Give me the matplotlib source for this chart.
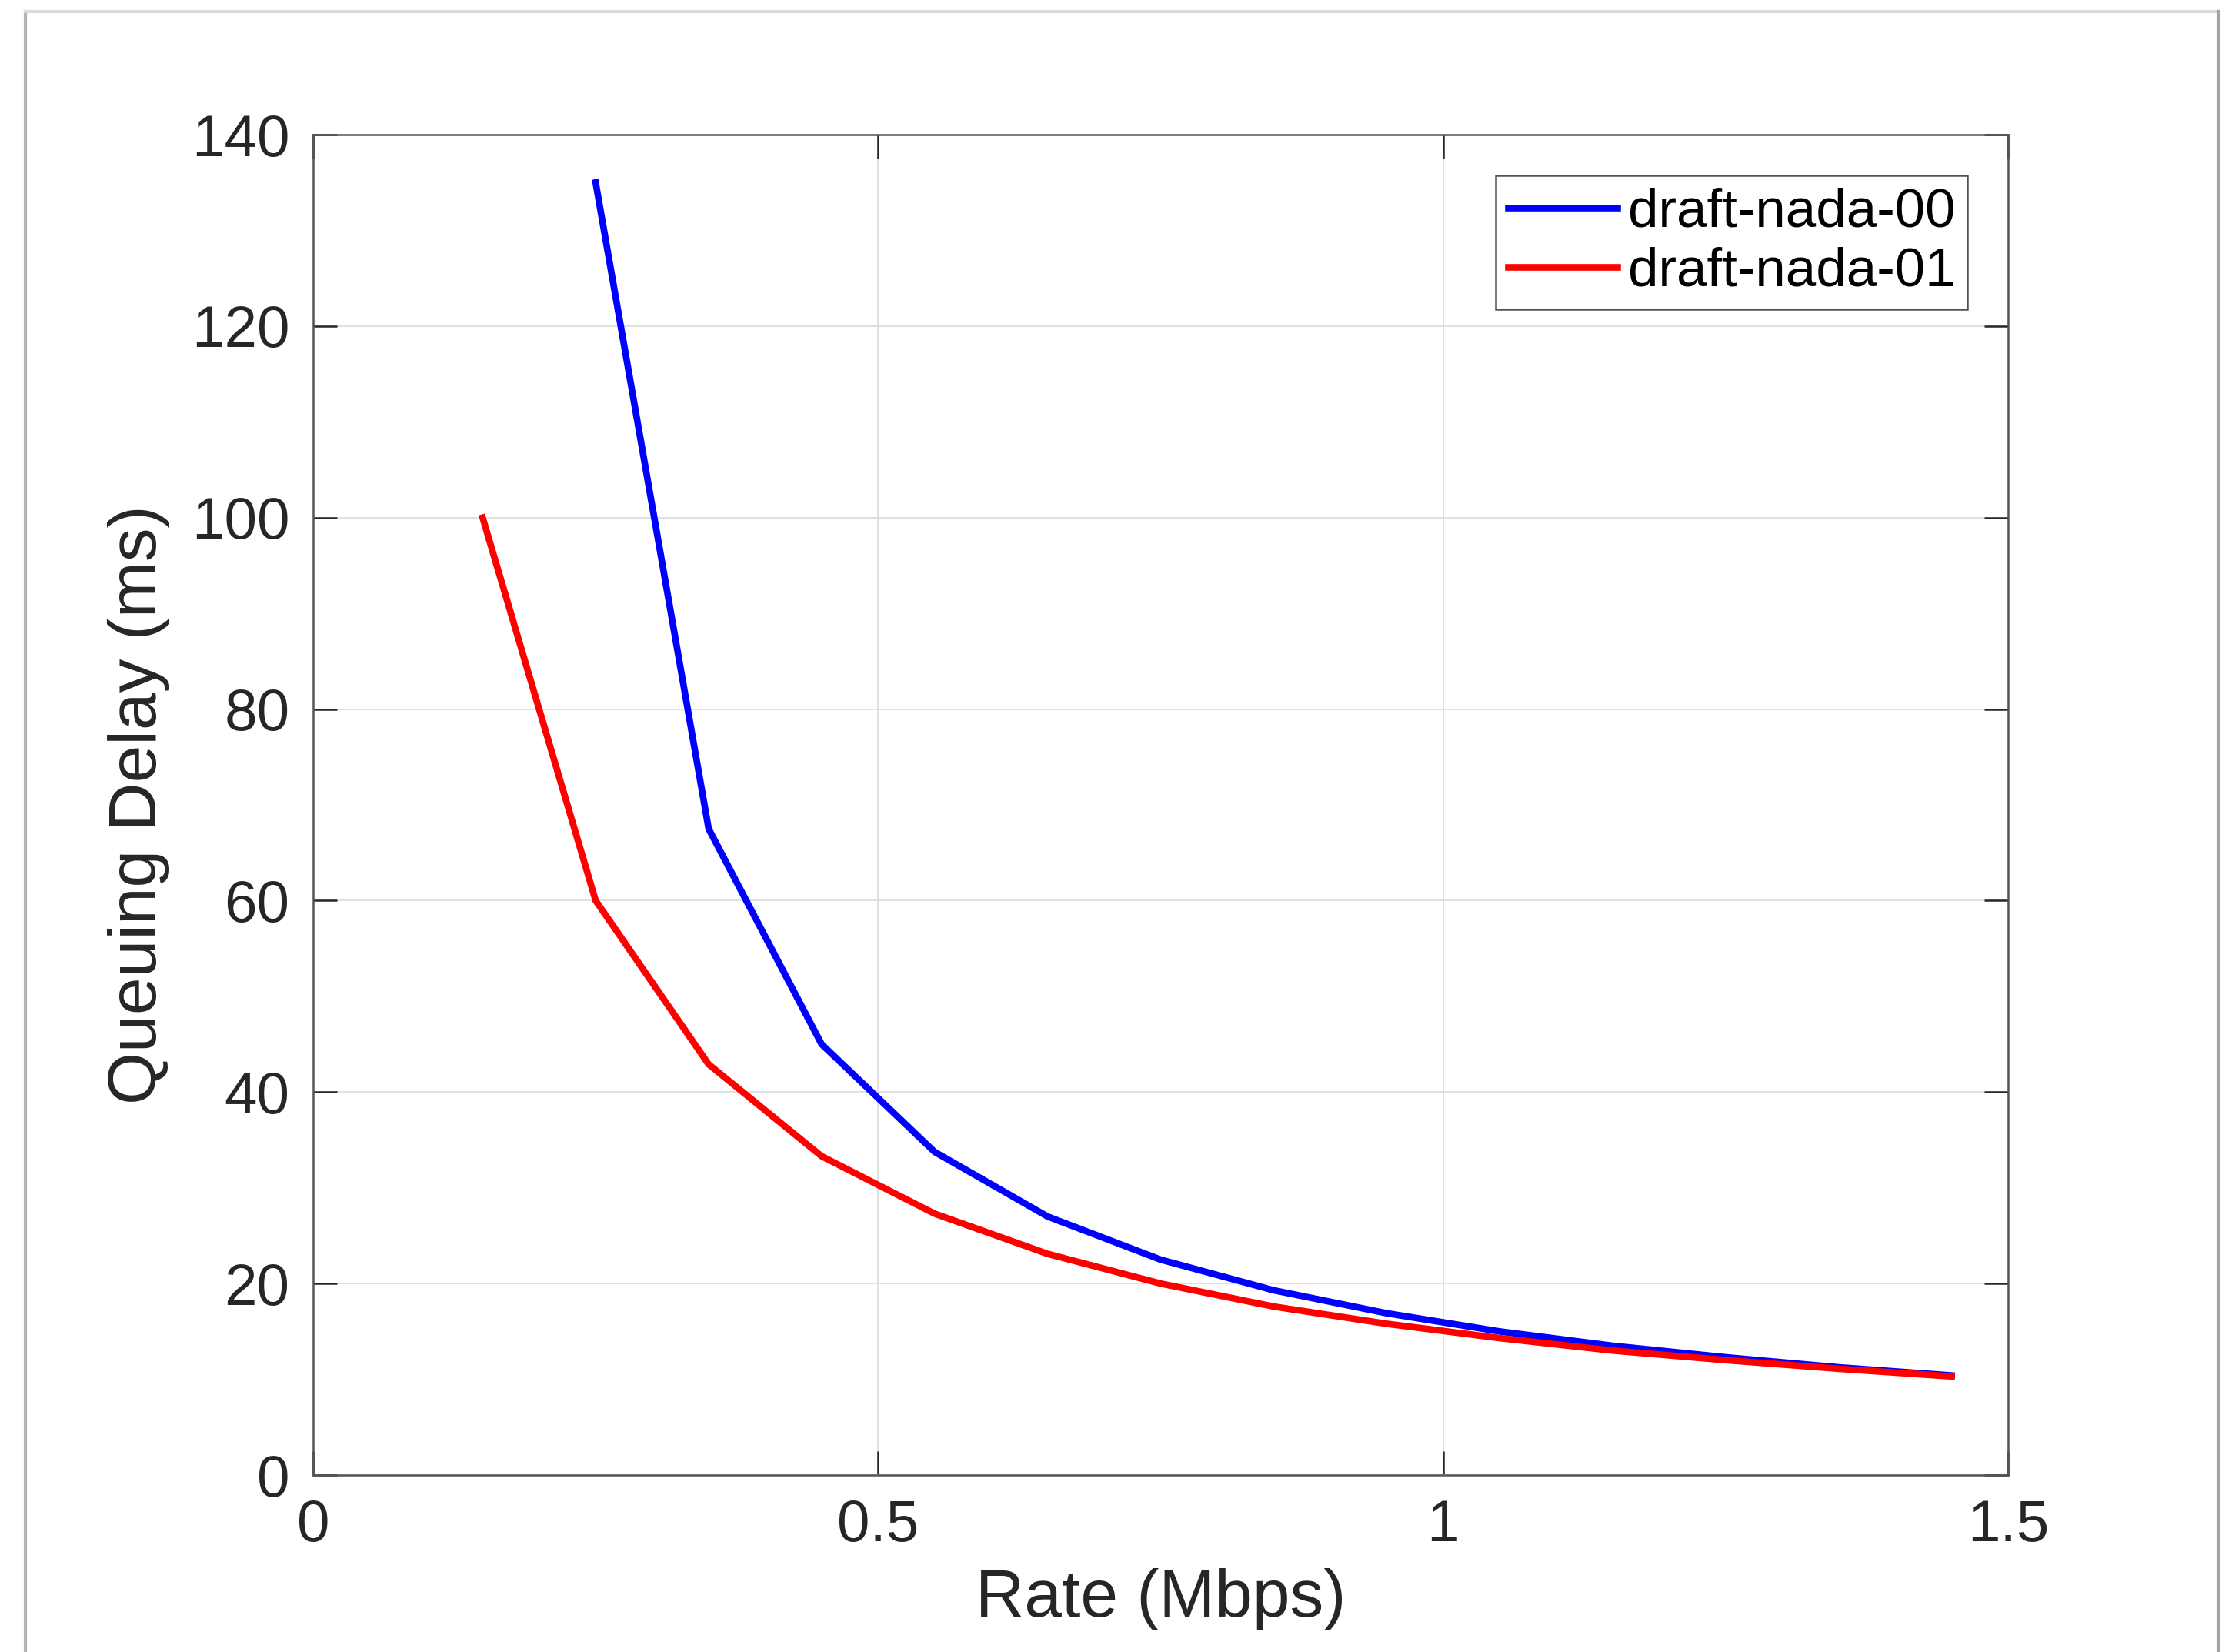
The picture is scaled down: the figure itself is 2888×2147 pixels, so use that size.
import matplotlib
matplotlib.use("Agg")
import matplotlib.pyplot as plt
from matplotlib.lines import Line2D

# data
rate_00 = [0.25, 0.35, 0.45, 0.55, 0.65, 0.75, 0.85, 0.95, 1.05, 1.15, 1.25, 1.35, 1.45]
delay_00 = [135, 67.5, 45, 33.75, 27, 22.5, 19.3, 16.9, 15, 13.5, 12.3, 11.25, 10.4]
rate_01 = [0.15, 0.25, 0.35, 0.45, 0.55, 0.65, 0.75, 0.85, 0.95, 1.05, 1.15, 1.25, 1.35, 1.45]
delay_01 = [100, 60, 42.9, 33.3, 27.3, 23.1, 20, 17.6, 15.8, 14.3, 13.0, 12.0, 11.1, 10.3]
labels = ["draft-nada-00", "draft-nada-01"]

xticks = [0, 0.5, 1, 1.5]
xticklabels = ["0", "0.5", "1", "1.5"]
yticks = [0, 20, 40, 60, 80, 100, 120, 140]

plt.rcParams['font.family'] = ['Liberation Sans', 'DejaVu Sans']

W, H = 2888, 2147
fig = plt.figure(figsize=(W / 100, H / 100), dpi=100)
fig.patch.set_facecolor('white')

# window frame around the figure (screenshot look)
fig.add_artist(Line2D([33 / W, 33 / W], [0, 1 - 15 / H], transform=fig.transFigure,
                      color='#b0b4b4', lw=3))
fig.add_artist(Line2D([33 / W, 2883 / W], [1 - 15 / H, 1 - 15 / H], transform=fig.transFigure,
                      color='#d8dcdc', lw=3))
fig.add_artist(Line2D([2883 / W, 2883 / W], [0, 1 - 15 / H], transform=fig.transFigure,
                      color='#a0a4a4', lw=3))

ax = fig.add_axes([407 / W, 1 - 1917 / H, (2610 - 407) / W, (1917 - 175) / H])

ax.plot(rate_00, delay_00, color='#0000ff', lw=6.2, label=labels[0])
ax.plot(rate_01, delay_01, color='#ff0000', lw=6.2, label=labels[1])

ax.set_xlim(0, 1.5)
ax.set_ylim(0, 140)
ax.set_xticks(xticks)
ax.set_xticklabels(xticklabels)
ax.set_yticks(yticks)

axcol = '#262626'
for s in ax.spines.values():
    s.set_color('#555555')
    s.set_linewidth(1.8)
ax.tick_params(direction='in', length=22, width=1.8, color=axcol,
               top=True, right=True, labelsize=55, labelcolor=axcol)
ax.tick_params(axis='x', pad=22)
ax.tick_params(axis='y', pad=22)
ax.grid(True, color='#dcdcdc', lw=1.2)
ax.set_axisbelow(True)

ax.set_xlabel("Rate (Mbps)", fontsize=63, color=axcol, labelpad=14)
ax.set_ylabel("Queuing Delay (ms)", fontsize=63, color=axcol, labelpad=20)

leg = ax.legend(loc='upper right', fontsize=51, frameon=True, fancybox=False,
                edgecolor=axcol, handlelength=2.0, handletextpad=0.2,
                borderpad=0.22, labelspacing=0.15, borderaxespad=0.75)
leg.get_frame().set_linewidth(1.8)

fig.savefig("out.png", dpi=100)
